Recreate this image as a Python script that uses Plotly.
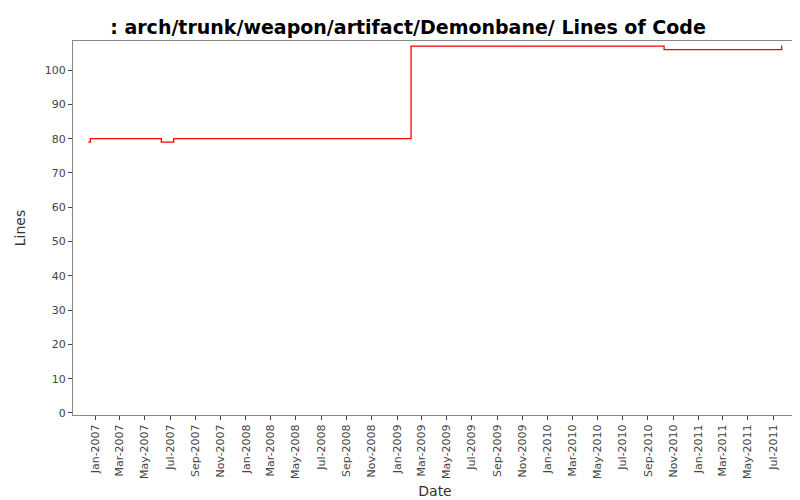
import plotly.graph_objects as go

dates = ["2006-12-15", "2006-12-20", "2007-06-10", "2007-07-10", "2009-02-04", "2010-10-10", "2011-07-22", "2011-07-23"]
lines = [79, 80, 79, 80, 107, 106, 107, 107]

fig = go.Figure(go.Scatter(x=dates, y=lines, mode="lines", line=dict(color="red", width=1.3, shape="hv"),
                           hoverinfo="skip"))
fig.update_layout(
    width=800, height=500, paper_bgcolor="white", plot_bgcolor="white",
    margin=dict(l=65, r=11, t=33, b=93),
    font=dict(family="DejaVu Sans", size=11, color="#444"),
    title=dict(text="<b>: arch/trunk/weapon/artifact/Demonbane/ Lines of Code</b>", x=0.5, y=0.975,
               xanchor="center", font=dict(size=19, color="black"), automargin=False),
    showlegend=False,
)
fig.update_xaxes(range=["2006-11-08", "2011-08-28"], dtick="M2", tick0="2007-01-01", tickformat="%b-%Y",
                 tickangle=-90, ticks="outside", ticklen=4, showgrid=False, showline=True, linecolor="#888",
                 mirror=True, automargin=False, title=dict(text="Date", standoff=8, font=dict(size=14, color="#333")))
fig.update_yaxes(range=[-0.6, 108.5], dtick=10, ticks="outside", ticklen=4, showgrid=False, showline=True,
                 linecolor="#888", mirror=True, zeroline=False, automargin=False,
                 title=dict(text="Lines", font=dict(size=14, color="#333")))
fig.write_html("out.html")
